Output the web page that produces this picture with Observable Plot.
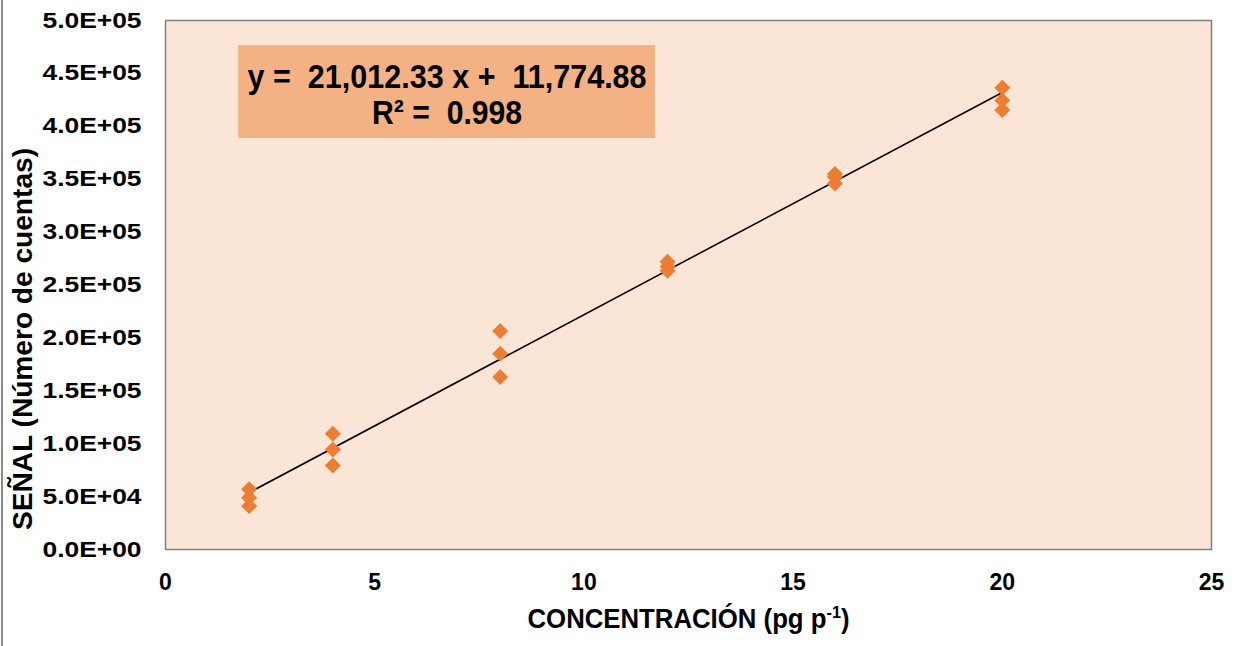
<!DOCTYPE html>
<html><head><meta charset="utf-8">
<script src="https://cdn.jsdelivr.net/npm/d3@7"></script>
<script src="https://cdn.jsdelivr.net/npm/@observablehq/plot@0.6"></script>
<style>
body{margin:0;background:#fff;}
#wrap{position:relative;width:1239px;height:646px;overflow:hidden;}
#edge{position:absolute;left:1px;top:0;width:2px;height:646px;background:#8a8a8a;}
svg{white-space:pre;}
</style></head><body><div id="wrap"><div id="edge"></div></div>
<script>
const concentration = [2,2,2,4,4,4,8,8,8,12,12,12,16,16,16,20,20,20];
const signal = [57000,49000,41000,109500,94500,79500,206500,185000,163000,272000,267500,263500,355000,352000,346000,436500,424500,415500];
const slope = 21012.33;
const intercept = 11774.88;
const r2 = 0.998;
const xTicks = [0,5,10,15,20,25];
const yTicks = [0,50000,100000,150000,200000,250000,300000,350000,400000,450000,500000];
const xTitle = "CONCENTRACIÓN (pg p-1)";
const yTitle = "SEÑAL (Número de cuentas)";
const eqText = "y =  21,012.33 x +  11,774.88";
const r2Text = "R² =  0.998";

const points = concentration.map((c,i)=>({x:c, y:signal[i]}));
const xMin = d3.min(concentration), xMax = d3.max(concentration);
const trend = [xMin, xMax].map(x=>({x, y: slope*x + intercept}));

function sci(d){
  const [m,e] = d.toExponential(1).split("e");
  const sign = e[0]==="-" ? "-" : "+";
  const ex = e.replace(/[+-]/,"").padStart(2,"0");
  return m + "E" + sign + ex;
}

const font = "'Liberation Sans', Arial, sans-serif";

const chart = Plot.plot({
  width: 1239, height: 646,
  marginLeft: 165, marginRight: 28, marginTop: 20, marginBottom: 97,
  style: {fontFamily: font, background: "transparent", overflow: "visible"},
  x: {domain: [0,25], ticks: xTicks},
  y: {domain: [0,500000], ticks: yTicks},
  marks: [
    Plot.frame({fill: "#FBE5D6", stroke: null}),
    Plot.rect([{}], {x1: 1.75, x2: 11.71, y1: 388500, y2: 476300, fill: "#F4B183"}),
    Plot.text([eqText], {x: 6.73, y: 446000, text: d=>d, fontSize: 33, fontWeight: "bold", fill: "#000"}),
    Plot.text([r2Text], {x: 6.73, y: 412000, text: d=>d, fontSize: 33, fontWeight: "bold", fill: "#000"}),
    Plot.line(trend, {x: "x", y: "y", stroke: "#000", strokeWidth: 1.6}),
    Plot.dot(points, {x: "x", y: "y", symbol: "diamond2", r: 7.2, fill: "#ED7D31", stroke: null}),
    Plot.frame({stroke: "#7f7f7f", strokeWidth: 1.5}),
    Plot.axisX(xTicks, {tickSize: 0, tickPadding: 24, fontSize: 23, fontWeight: "bold", label: null, fill: "#000"}),
    Plot.axisY(yTicks, {tickSize: 0, tickPadding: 24, fontSize: 22, fontWeight: "bold", label: null, tickFormat: sci, fill: "#000"}),
    Plot.text([xTitle], {frameAnchor: "bottom", dy: 78, text: d=>d, fontSize: 27, fontWeight: "bold", fill: "#000"}),
    Plot.text([yTitle], {frameAnchor: "left", textAnchor: "middle", rotate: -90, dx: -142, dy: 54, text: d=>d, fontSize: 28, fontWeight: "bold", fill: "#000"})
  ]
});

const S = d3.select(chart);
function squeeze(sel, len){
  sel.attr("textLength", len).attr("lengthAdjust", "spacingAndGlyphs");
}
S.selectAll("text").filter(function(){return this.textContent===xTitle;}).each(function(){
  const t = d3.select(this);
  t.text(null);
  t.append("tspan").text("CONCENTRACIÓN (pg p");
  t.append("tspan").attr("dy", -10).attr("font-size", 17).text("-1");
  t.append("tspan").attr("dy", 10).text(")");
  squeeze(t, 322);
});
S.selectAll("text").filter(function(){return this.textContent===yTitle;}).each(function(){ squeeze(d3.select(this), 382); });
S.selectAll("text").filter(function(){return this.textContent===eqText;}).each(function(){ squeeze(d3.select(this), 399); });
S.selectAll("text").filter(function(){return this.textContent===r2Text;}).each(function(){ squeeze(d3.select(this), 150); });
S.selectAll("g[aria-label='y-axis tick label'] text").each(function(){
  const t = d3.select(this);
  t.style("font-size", "22px");
  squeeze(t, 99);
});
S.selectAll("g[aria-label='x-axis tick label'] text").each(function(){
  d3.select(this).style("font-size", "23px");
});

document.getElementById("wrap").appendChild(chart);
</script>
</body></html>
